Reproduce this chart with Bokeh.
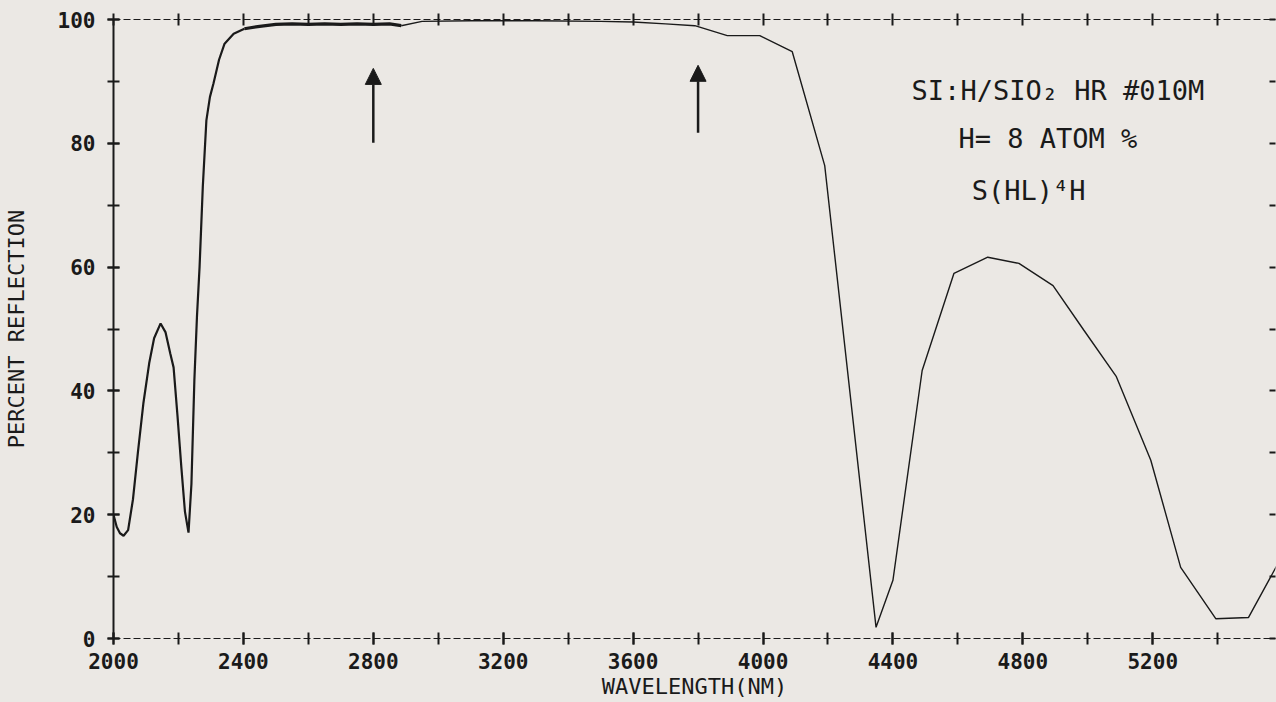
from bokeh.plotting import figure
from bokeh.models import Range1d, LinearAxis, FixedTicker, Arrow, NormalHead, ColumnDataSource, Label
from bokeh.embed import file_html
from bokeh.resources import INLINE

# ---------------- data ----------------
wl_rise = [2000, 2010, 2020, 2031, 2045, 2060, 2075, 2092, 2110, 2125, 2145, 2160, 2175, 2185,
           2197, 2209, 2220, 2231, 2240, 2249, 2257, 2265, 2275, 2286, 2297, 2308, 2325, 2342,
           2370, 2403]
refl_rise = [20.0, 18.0, 17.0, 16.6, 17.5, 22.5, 30.0, 38.0, 44.5, 48.5, 50.9, 49.5, 46.0, 43.8,
             36.0, 27.6, 20.5, 17.1, 25.0, 41.7, 52.0, 60.0, 73.0, 83.7, 87.5, 89.7, 93.5, 96.1,
             97.7, 98.5]

wl_plateau = [2403, 2450, 2500, 2550, 2600, 2650, 2700, 2750, 2800, 2850, 2886]
refl_plateau = [98.5, 98.9, 99.2, 99.3, 99.2, 99.3, 99.2, 99.3, 99.2, 99.3, 99.0]

wl_tail = [2886, 2950, 3100, 3300, 3500, 3600, 3700, 3790, 3890, 3990, 4090, 4190, 4348, 4400,
           4490, 4588, 4692, 4788, 4893, 4988, 5088, 5194, 5286, 5394, 5495, 5600]
refl_tail = [99.0, 99.7, 99.8, 99.8, 99.7, 99.6, 99.3, 99.0, 97.4, 97.4, 94.8, 76.4, 1.8, 9.4,
             43.3, 59.0, 61.6, 60.6, 57.0, 49.8, 42.3, 28.8, 11.5, 3.2, 3.4, 13.5]

arrow_x = [2800, 3800]
arrow_y0 = [80.1, 81.7]
arrow_y1 = [92.1, 92.6]

x_major = [2000, 2400, 2800, 3200, 3600, 4000, 4400, 4800, 5200]
x_minor = [2000, 2200, 2400, 2600, 2800, 3000, 3200, 3400, 3600, 3800, 4000, 4200, 4400,
           4600, 4800, 5000, 5200, 5400]
y_major = [0, 20, 40, 60, 80, 100]
y_minor = [0, 10, 20, 30, 40, 50, 60, 70, 80, 90, 100]

note_lines = ["SI:H/SIO\u2082 HR #010M", "H= 8 ATOM %", "S(HL)\u2074H"]
note_x = [4908, 4877, 4818]
note_y = [88.5, 80.8, 72.4]

# ---------------- styling ----------------
BG = "#ebe8e4"
INK = "#1a1a1a"
FONT = "DejaVu Sans Mono"

p = figure(width=1276, height=702, output_backend="svg", toolbar_location=None,
           x_range=Range1d(2000, 5578), y_range=Range1d(0, 100),
           min_border_left=112, min_border_right=1, min_border_top=19, min_border_bottom=64,
           background_fill_color=BG, border_fill_color=BG, outline_line_color=None)
p.grid.visible = False
p.xaxis.visible = False
p.yaxis.visible = False


def style_axis(ax):
    ax.major_tick_in = 6
    ax.major_tick_out = 6
    ax.minor_tick_in = 6
    ax.minor_tick_out = 6
    ax.major_tick_line_color = INK
    ax.minor_tick_line_color = INK
    ax.major_tick_line_width = 2
    ax.minor_tick_line_width = 2
    ax.axis_line_color = INK
    ax.major_label_text_font = FONT
    ax.major_label_text_font_style = "bold"
    ax.major_label_text_font_size = "21px"
    ax.major_label_text_color = INK
    ax.axis_label_text_font = FONT
    ax.axis_label_text_font_style = "normal"
    ax.axis_label_text_font_size = "22px"
    ax.axis_label_text_color = INK


bottom = LinearAxis(ticker=FixedTicker(ticks=x_major, minor_ticks=x_minor),
                    axis_label="WAVELENGTH(NM)")
style_axis(bottom)
bottom.axis_line_dash = "7 3"
bottom.axis_line_width = 1.2
bottom.major_label_standoff = 8
bottom.axis_label_standoff = 2
p.add_layout(bottom, "below")

top = LinearAxis(ticker=FixedTicker(ticks=[], minor_ticks=x_minor))
style_axis(top)
top.axis_line_dash = "7 3"
top.axis_line_width = 1.2
p.add_layout(top, "above")

left = LinearAxis(ticker=FixedTicker(ticks=y_major, minor_ticks=y_minor),
                  axis_label="PERCENT REFLECTION")
style_axis(left)
left.axis_line_width = 2
left.major_label_standoff = 12
left.axis_label_standoff = 26
p.add_layout(left, "left")

right = LinearAxis(ticker=FixedTicker(ticks=[], minor_ticks=y_minor))
style_axis(right)
right.minor_tick_out = 0
right.axis_line_color = None
p.add_layout(right, "right")

# ---------------- curve ----------------
p.line(wl_rise, refl_rise, line_color=INK, line_width=2.2)
p.line(wl_plateau, refl_plateau, line_color=INK, line_width=3.2)
p.line(wl_tail, refl_tail, line_color=INK, line_width=1.4)

# ---------------- arrows ----------------
asrc = ColumnDataSource(dict(x=arrow_x, y0=arrow_y0, y1=arrow_y1))
p.add_layout(Arrow(source=asrc, x_start="x", y_start="y0", x_end="x", y_end="y1",
                   line_color=INK, line_width=2.5,
                   end=NormalHead(size=16, fill_color=INK, line_color=INK)))

# ---------------- annotation text ----------------
for t, x, y in zip(note_lines, note_x, note_y):
    p.add_layout(Label(x=x, y=y, text=t, text_align="center", text_baseline="middle",
                       text_font=FONT, text_font_size="27px", text_color=INK))

tmpl = """{% block postamble %}<style>html, body { background: #ebe8e4; margin: 0 !important; padding: 0 !important; overflow: hidden; }</style>{% endblock %}"""
html = file_html(p, INLINE, title="Percent reflection", template=tmpl)
open("out.html", "w").write(html)
